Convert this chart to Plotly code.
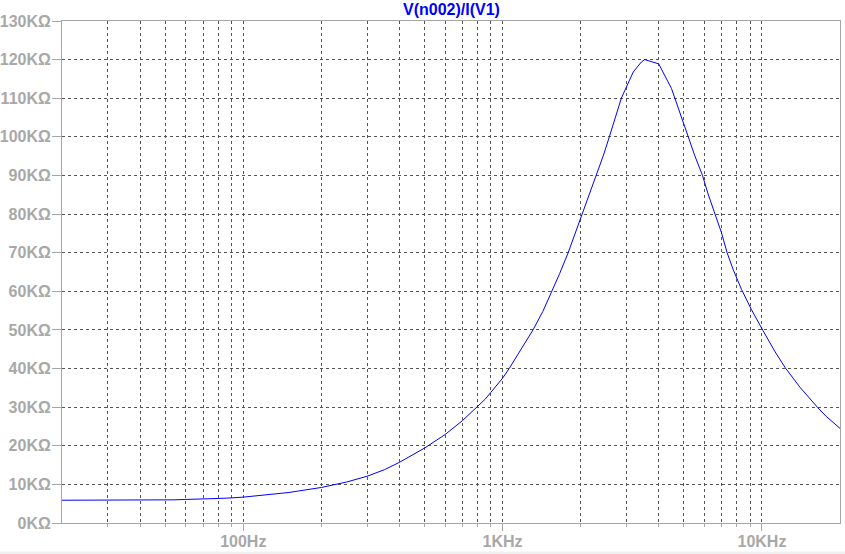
import plotly.graph_objects as go

# Frequency (Hz) and impedance |V(n002)/I(V1)| in KΩ
freq_hz = [20, 30, 40, 50, 54, 60, 70, 76, 80, 90, 100, 150, 200, 250, 300, 350, 400, 500,
           600, 700, 800, 855, 900, 1000, 1060, 1166, 1310, 1430, 1550, 1660, 1790, 1900,
           2020, 2170, 2300, 2450, 2580, 2870, 3190, 3430, 3530, 4000, 4480, 4610, 5200,
           5510, 5900, 6200, 6580, 6980, 7340, 7740, 8340, 9120, 10100, 11200, 12300, 14000,
           16400, 17700, 20000]
z_kohm = [5.9, 5.9, 5.9, 5.95, 6.0, 6.1, 6.15, 6.25, 6.35, 6.5, 6.7, 7.9, 9.2, 10.6, 12.1,
          13.8, 15.7, 19.4, 22.9, 26.5, 30.0, 32.0, 33.8, 37.5, 40.0, 44.5, 50.0, 54.8, 60.0,
          64.6, 70.0, 74.8, 80.0, 85.3, 90.0, 95.3, 100.0, 110.0, 116.8, 119.4, 120.0, 118.9,
          112.5, 110.0, 100.0, 95.1, 90.0, 85.2, 80.0, 75.2, 70.0, 65.7, 60.5, 55.2, 49.8,
          44.5, 40.2, 35.2, 29.9, 27.6, 24.5]

title_text = "V(n002)/I(V1)"
x_major_vals = [100, 1000, 10000]
x_major_text = ["100Hz", "1KHz", "10KHz"]
x_minor_vals = [30, 40, 50, 60, 70, 80, 90,
                200, 300, 400, 500, 600, 700, 800, 900,
                2000, 3000, 4000, 5000, 6000, 7000, 8000, 9000]
y_tick_vals = list(range(0, 131, 10))
y_tick_text = [f"{v}KΩ" for v in y_tick_vals]

AXIS = "#a6a6a6"
GRID = "#555555"
LABEL = "#a8a8a8"
FONT = "Liberation Sans, Arial, sans-serif"

fig = go.Figure()
fig.add_trace(go.Scatter(x=freq_hz, y=z_kohm, mode="lines",
                         line=dict(color="#0000ff", width=1), hoverinfo="skip"))

PLOT_H = 554 - 21 - 31

fig.update_layout(
    width=845, height=554,
    margin=dict(l=62, r=5, t=21, b=31, autoexpand=False),
    paper_bgcolor="white", plot_bgcolor="white",
    showlegend=False,
    font=dict(family=FONT),
    annotations=[dict(text=title_text, xref="paper", yref="paper", x=0.5,
                      y=1 + (21.5 - 10) / PLOT_H, xanchor="center", yanchor="middle",
                      showarrow=False,
                      font=dict(family=FONT, size=16, color="#0000ff", weight="bold"))],
    shapes=[dict(type="rect", xref="paper", yref="paper", x0=-0.2, x1=1.2,
                 y0=-(551.5 - 523) / PLOT_H, y1=-(560 - 523) / PLOT_H,
                 fillcolor="#f0f0f0", line=dict(width=0), layer="below")],
)

fig.update_xaxes(
    type="log", range=[1.30103, 4.30103], automargin=False,
    tickmode="array", tickvals=x_major_vals, ticktext=x_major_text,
    ticks="outside", ticklen=7, tickcolor=AXIS, tickwidth=1,
    ticklabelstandoff=-3,
    tickfont=dict(family=FONT, size=16, color=LABEL, weight="bold"),
    showgrid=True, gridcolor=GRID, griddash="3px,3px", gridwidth=1,
    showline=True, linecolor=AXIS, linewidth=1, mirror=True,
    zeroline=False,
    minor=dict(tickmode="array", tickvals=x_minor_vals, ticks="outside", ticklen=3,
               tickcolor=AXIS, tickwidth=1, showgrid=True, gridcolor=GRID,
               griddash="3px,3px", gridwidth=1),
)
fig.update_yaxes(
    range=[0, 130], automargin=False,
    tickmode="array", tickvals=y_tick_vals, ticktext=y_tick_text,
    ticks="outside", ticklen=9, tickcolor=AXIS, tickwidth=1,
    ticklabelstandoff=-2,
    tickfont=dict(family=FONT, size=16, color=LABEL, weight="bold"),
    showgrid=True, gridcolor=GRID, griddash="3px,3px", gridwidth=1,
    showline=True, linecolor=AXIS, linewidth=1, mirror=True,
    zeroline=False,
)

fig.write_html("out.html", config={"displayModeBar": False},
               post_script="document.body.style.margin='0px';document.body.style.overflow='hidden';")
